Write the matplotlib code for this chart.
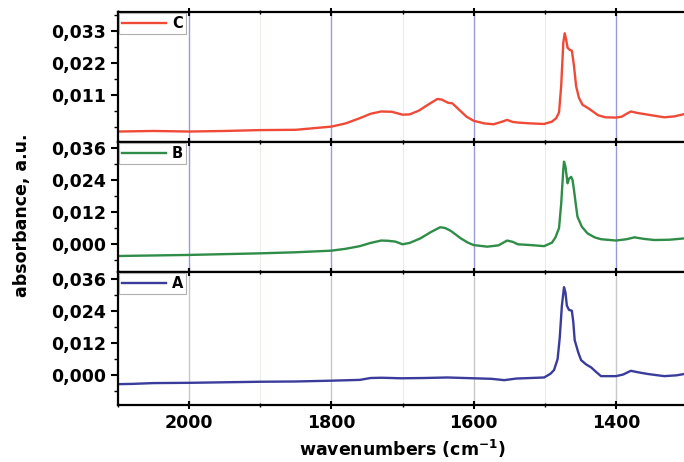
import matplotlib.pyplot as plt
from matplotlib.ticker import FuncFormatter, MultipleLocator

plt.rcParams['font.family'] = ['DejaVu Sans']
plt.rcParams['font.weight'] = 'bold'

# spectrum C (top)
wn_c = [2100, 2050, 2000, 1950, 1900, 1850, 1800, 1780, 1760, 1745, 1730, 1715,
        1700, 1690, 1677, 1665, 1651, 1645, 1636, 1630, 1620, 1610, 1600, 1585,
        1572, 1560, 1553, 1545, 1538, 1520, 1501, 1490, 1484, 1480, 1477, 1474,
        1472, 1470, 1468, 1465, 1462, 1459, 1456, 1452, 1447, 1440, 1433, 1425,
        1415, 1400, 1392, 1385, 1379, 1370, 1355, 1340, 1332, 1318, 1304, 1300]
abs_c = [-0.0016, -0.0014, -0.0016, -0.0014, -0.0011, -0.0010, 0.0001, 0.0012,
         0.0030, 0.0045, 0.0053, 0.0052, 0.0042, 0.0043, 0.0056, 0.0075, 0.0096,
         0.0094, 0.0083, 0.0081, 0.0058, 0.0035, 0.0021, 0.0012, 0.0009, 0.0018,
         0.0024, 0.0017, 0.0015, 0.0012, 0.0010, 0.0018, 0.0030, 0.0050, 0.0140,
         0.0290, 0.0322, 0.0300, 0.0272, 0.0265, 0.0262, 0.0210, 0.0140, 0.0100,
         0.0076, 0.0066, 0.0054, 0.0040, 0.0033, 0.0032, 0.0035, 0.0045, 0.0053,
         0.0048, 0.0042, 0.0036, 0.0033, 0.0036, 0.0044, 0.0045]

# spectrum B (middle)
wn_b = [2100, 2050, 2000, 1950, 1900, 1850, 1800, 1780, 1760, 1745, 1730, 1720,
        1710, 1700, 1690, 1675, 1660, 1647, 1640, 1632, 1618, 1608, 1600, 1581,
        1565, 1553, 1545, 1538, 1520, 1501, 1490, 1485, 1480, 1477, 1474, 1473,
        1471, 1468, 1466, 1463, 1461, 1459, 1456, 1454, 1448, 1440, 1430, 1421,
        1400, 1385, 1374, 1360, 1346, 1325, 1304, 1300]
abs_b = [-0.0045, -0.0043, -0.0041, -0.0038, -0.0035, -0.0031, -0.0025, -0.0018,
         -0.0008, 0.0004, 0.0013, 0.0012, 0.0009, -0.0001, 0.0004, 0.0021, 0.0045,
         0.0063, 0.0060, 0.0049, 0.0021, 0.0005, -0.0004, -0.0010, -0.0005, 0.0013,
         0.0008, -0.0001, -0.0004, -0.0008, 0.0005, 0.0025, 0.0060, 0.0150, 0.0280,
         0.0309, 0.0290, 0.0228, 0.0245, 0.0252, 0.0240, 0.0203, 0.0140, 0.0102,
         0.0065, 0.0040, 0.0025, 0.0018, 0.0013, 0.0018, 0.0025, 0.0019, 0.0015,
         0.0016, 0.0021, 0.0022]

# spectrum A (bottom)
wn_a = [2100, 2080, 2050, 2000, 1950, 1900, 1850, 1800, 1760, 1745, 1730, 1715,
        1703, 1670, 1637, 1600, 1575, 1557, 1540, 1520, 1501, 1492, 1487, 1482,
        1479, 1476, 1473, 1471, 1469, 1466, 1462, 1460, 1458, 1453, 1449, 1442,
        1435, 1428, 1421, 1400, 1390, 1379, 1368, 1355, 1332, 1315, 1304, 1300]
abs_a = [-0.0034, -0.0033, -0.0030, -0.0029, -0.0027, -0.0025, -0.0024, -0.0021,
         -0.0018, -0.0011, -0.0010, -0.0011, -0.0012, -0.0011, -0.0009, -0.0012,
         -0.0014, -0.0019, -0.0013, -0.0011, -0.0009, 0.0005, 0.0019, 0.0060,
         0.0140, 0.0260, 0.0329, 0.0310, 0.0260, 0.0244, 0.0241, 0.0200, 0.0131,
         0.0085, 0.0056, 0.0040, 0.0029, 0.0012, -0.0004, -0.0004, 0.0002, 0.0016,
         0.0010, 0.0004, -0.0004, -0.0001, 0.0004, 0.0005]

labels = ['C', 'B', 'A']
colors = ['#ef4a38', '#2f8d48', '#3a3c9c']
yticks = [[0.011, 0.022, 0.033], [0.000, 0.012, 0.024, 0.036], [0.000, 0.012, 0.024, 0.036]]
ylims = [(-0.0052, 0.0395), (-0.0105, 0.0383), (-0.0112, 0.0386)]
grid_cols = ['#9a9ade', '#9a9ade', '#c8c8c8']

fig = plt.figure(figsize=(6.84, 4.62), dpi=100)
boxes = [[0.1725, 0.6926, 0.832, 0.2814],
         [0.1725, 0.4113, 0.832, 0.2814],
         [0.1725, 0.1234, 0.832, 0.2879]]
data = [(wn_c, abs_c), (wn_b, abs_b), (wn_a, abs_a)]

fmt = FuncFormatter(lambda v, p: f"{v:.3f}".replace('.', ','))

for i in range(3):
    ax = fig.add_axes(boxes[i])
    wn, ab = data[i]
    ax.plot(wn, ab, color=colors[i], lw=1.7, label=labels[i])
    ax.set_xlim(2100, 1300)
    ax.set_ylim(*ylims[i])
    ax.set_yticks(yticks[i])
    step = yticks[i][1] - yticks[i][0]
    ax.yaxis.set_minor_locator(MultipleLocator(step / 2))
    ax.yaxis.set_major_formatter(fmt)
    ax.xaxis.set_major_locator(MultipleLocator(200))
    ax.xaxis.set_minor_locator(MultipleLocator(100))
    ax.grid(True, which='major', axis='x', color=grid_cols[i], lw=1.0)
    ax.grid(True, which='minor', axis='x', color='#e6eee6', lw=0.8)
    for s in ax.spines.values():
        s.set_linewidth(1.6)
    ax.tick_params(axis='x', which='major', direction='inout', top=True,
                   length=6, width=1.5, labelsize=12.5)
    ax.tick_params(axis='x', which='minor', direction='inout', top=True,
                   length=3, width=1.0)
    ax.tick_params(axis='y', which='major', direction='out', length=5, width=1.5,
                   labelsize=12.5)
    ax.tick_params(axis='y', which='minor', direction='out', length=3, width=1.0)
    if i < 2:
        ax.tick_params(axis='x', labelbottom=False)
    leg = ax.legend(loc='upper left', handlelength=3.0, handletextpad=0.4,
                    borderaxespad=0.1, borderpad=0.2, fancybox=False,
                    edgecolor='#b0b0b0', framealpha=1,
                    prop={'size': 10.5, 'weight': 'bold'})
    leg.get_frame().set_linewidth(0.8)
    if i == 2:
        ax.set_xlabel('wavenumbers (cm$^{\\mathbf{-1}}$)', fontsize=12.5,
                      fontweight='bold', labelpad=4)

fig.text(0.032, 0.535, 'absorbance, a.u.', rotation=90, ha='center', va='center',
         fontsize=12.5, fontweight='bold')

fig.savefig('out.png', dpi=100)
